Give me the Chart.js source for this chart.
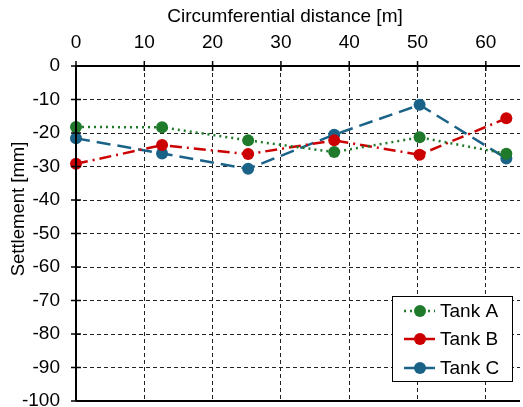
<!DOCTYPE html>
<html>
<head>
<meta charset="utf-8">
<script src="https://cdn.jsdelivr.net/npm/chart.js@4"></script>
<style>
  html, body { margin: 0; padding: 0; background: #fff; overflow: hidden; }
  #wrap { width: 526px; height: 407px; position: relative; }
</style>
</head>
<body>
<div id="wrap"><canvas id="settlementChart"></canvas></div>
<script>
const FONT = '"Liberation Sans", Arial, sans-serif';

// Survey positions around the circumference [m]
const distance = [0, 12.6, 25.2, 37.8, 50.3, 63];

// Settlement readings [mm]
const tankA = [-18.2, -18.3, -22.2, -25.7, -21.3, -26.2];
const tankB = [-29.2, -23.6, -26.3, -22.2, -26.5, -15.6];
const tankC = [-21.6, -26.1, -30.7, -20.5, -11.6, -27.6];

const seriesNames = ['Tank A', 'Tank B', 'Tank C'];
const seriesColors = ['#1f7a2c', '#cc0000', '#1b6288'];

const xTicks = [0, 10, 20, 30, 40, 50, 60];

function toPoints(values) {
    return distance.map((d, i) => ({ x: d, y: values[i] }));
}

// Solid frame, crossing tick marks, axis titles and the boxed legend
const decorations = {
    id: 'decorations',
    afterDatasetsDraw(chart) {
        const ctx = chart.ctx;
        const area = chart.chartArea;
        const xs = chart.scales.x, ys = chart.scales.y;
        ctx.save();
        ctx.setLineDash([]);
        ctx.strokeStyle = '#000';

        ctx.lineWidth = 2;
        ctx.beginPath();
        ctx.moveTo(area.left, area.bottom);
        ctx.lineTo(area.right, area.bottom);
        ctx.moveTo(area.left, area.bottom);
        ctx.lineTo(area.left, area.top);
        ctx.lineTo(area.right, area.top);
        ctx.stroke();

        ctx.lineWidth = 1.5;
        xTicks.forEach(v => {
            const px = xs.getPixelForValue(v);
            ctx.beginPath();
            ctx.moveTo(px, area.top - 5);
            ctx.lineTo(px, area.top + 5);
            ctx.stroke();
        });
        for (let v = 0; v >= -100; v -= 10) {
            const py = ys.getPixelForValue(v);
            ctx.beginPath();
            ctx.moveTo(area.left - 5, py);
            ctx.lineTo(area.left + 5, py);
            ctx.stroke();
        }
        ctx.restore();
    },
    afterDraw(chart) {
        const ctx = chart.ctx;
        ctx.save();

        // axis titles
        ctx.fillStyle = '#000';
        ctx.textAlign = 'center';
        ctx.textBaseline = 'middle';
        ctx.font = '19px ' + FONT;
        ctx.fillText('Circumferential distance [m]', 285, 17);
        ctx.save();
        ctx.font = '18.5px ' + FONT;
        ctx.translate(19, 209);
        ctx.rotate(-Math.PI / 2);
        ctx.fillText('Settlement [mm]', 0, 0);
        ctx.restore();

        // legend box
        const bx = 392, by = 296, bw = 120, bh = 85;
        ctx.fillStyle = '#fff';
        ctx.fillRect(bx, by, bw, bh);
        ctx.strokeStyle = '#000';
        ctx.lineWidth = 1;
        ctx.setLineDash([]);
        ctx.strokeRect(bx + 0.5, by + 0.5, bw, bh);

        const rows = [311, 339, 368];
        chart.data.datasets.forEach((ds, i) => {
            const y = rows[i];
            ctx.strokeStyle = ds.borderColor;
            ctx.lineWidth = 2.5;
            ctx.setLineDash(i === 0 ? [2, 4] : []);
            ctx.beginPath();
            ctx.moveTo(404, y);
            ctx.lineTo(435, y);
            ctx.stroke();
            ctx.setLineDash([]);
            ctx.fillStyle = ds.borderColor;
            ctx.beginPath();
            ctx.arc(420, y, 6, 0, Math.PI * 2);
            ctx.fill();
            ctx.fillStyle = '#000';
            ctx.textAlign = 'left';
            ctx.font = '19px ' + FONT;
            ctx.fillText(ds.label, 440, y + 1);
        });
        ctx.restore();
    }
};

const dashes = [[2, 4], [12, 5, 2, 5], [14, 7]];

const gridOpts = {
    color: '#222',
    lineWidth: 1,
    drawTicks: false
};

new Chart(document.getElementById('settlementChart'), {
    type: 'line',
    data: {
        datasets: [tankA, tankB, tankC].map((vals, i) => ({
            label: seriesNames[i],
            data: toPoints(vals),
            borderColor: seriesColors[i],
            backgroundColor: seriesColors[i],
            borderWidth: 2.5,
            borderDash: dashes[i],
            pointRadius: 6,
            pointHoverRadius: 6,
            pointBorderWidth: 0,
            tension: 0,
            clip: false
        }))
    },
    options: {
        responsive: true,
        maintainAspectRatio: false,
        animation: false,
        layout: { padding: { left: 0, right: 0, top: 0, bottom: 5 } },
        plugins: {
            legend: { display: false },
            tooltip: { enabled: false }
        },
        scales: {
            x: {
                type: 'linear',
                position: 'top',
                min: 0,
                max: 65,
                afterBuildTicks(scale) {
                    scale.ticks = xTicks.map(v => ({ value: v }));
                },
                afterFit(scale) {
                    scale.height = 66;
                    scale.paddingLeft = 0;
                    scale.paddingRight = 0;
                },
                ticks: {
                    color: '#000',
                    font: { family: FONT, size: 19 },
                    padding: 12,
                    maxRotation: 0
                },
                grid: gridOpts,
                border: { display: false, dash: [4, 3] }
            },
            y: {
                type: 'linear',
                min: -100,
                max: 0,
                ticks: {
                    stepSize: 10,
                    color: '#000',
                    font: { family: FONT, size: 19 },
                    padding: 16
                },
                afterFit(scale) {
                    scale.width = 76;
                    scale.paddingTop = 0;
                    scale.paddingBottom = 0;
                },
                grid: gridOpts,
                border: { display: false, dash: [4, 3] }
            }
        }
    },
    plugins: [decorations]
});
</script>
</body>
</html>
